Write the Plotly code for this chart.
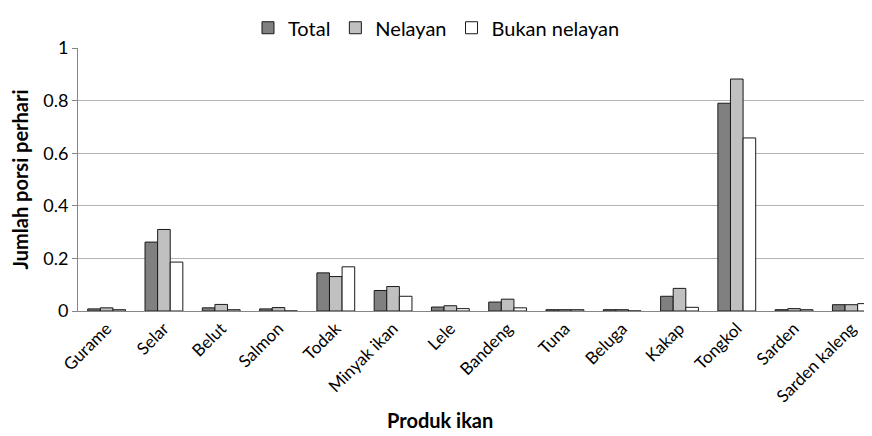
import plotly.graph_objects as go

categories = ["Gurame", "Selar", "Belut", "Salmon", "Todak", "Minyak ikan", "Lele",
              "Bandeng", "Tuna", "Beluga", "Kakap", "Tongkol", "Sarden", "Sarden kaleng"]
total = [0.008, 0.262, 0.012, 0.008, 0.145, 0.078, 0.015, 0.034, 0.005, 0.005, 0.056, 0.790, 0.005, 0.024]
nelayan = [0.012, 0.310, 0.025, 0.013, 0.131, 0.093, 0.020, 0.045, 0.005, 0.005, 0.086, 0.882, 0.009, 0.024]
bukan_nelayan = [0.005, 0.186, 0.005, 0.0, 0.168, 0.056, 0.009, 0.012, 0.005, 0.0, 0.014, 0.658, 0.005, 0.028]

FONT = "Lato, 'Open Sans', sans-serif"
line = dict(color="#1a1a1a", width=1)

fig = go.Figure()
fig.add_trace(go.Bar(name="Total", x=categories, y=total, marker=dict(color="#808080", line=line)))
fig.add_trace(go.Bar(name="Nelayan", x=categories, y=nelayan, marker=dict(color="#c0c0c0", line=line)))
fig.add_trace(go.Bar(name="Bukan nelayan", x=categories, y=bukan_nelayan, marker=dict(color="#ffffff", line=line)))

fig.update_layout(
    width=872, height=436,
    margin=dict(l=70, r=0, t=31, b=133),
    plot_bgcolor="white", paper_bgcolor="white",
    barmode="group", bargap=0.34, bargroupgap=0,
    font=dict(family=FONT, size=17, color="#000000"),
    showlegend=True,
    legend=dict(orientation="h", x=0.447, xanchor="center", y=1.077, yanchor="middle",
                font=dict(size=20), itemwidth=30, traceorder="normal",
                bgcolor="rgba(0,0,0,0)"),
    annotations=[dict(text="<b>Produk ikan</b>", xref="paper", yref="paper",
                      x=0.451, y=-0.415, xanchor="center", yanchor="middle",
                      showarrow=False, font=dict(size=20))],
)
fig.update_xaxes(
    range=[-0.5, 13.5], tickangle=-45, showline=True, linecolor="#868686", linewidth=1,
    ticks="", showgrid=False, tickfont=dict(size=17),
)
fig.update_yaxes(
    range=[0, 1], dtick=0.2, showline=True, linecolor="#868686", linewidth=1,
    ticks="outside", ticklen=5, tickcolor="#868686",
    showgrid=True, gridcolor="#b3b3b3", gridwidth=1, zeroline=False,
    tickfont=dict(size=18), tickformat="~g",
    title=dict(text="<b>Jumlah porsi perhari</b>", font=dict(size=20), standoff=10),
)

fig.write_html("out.html")
